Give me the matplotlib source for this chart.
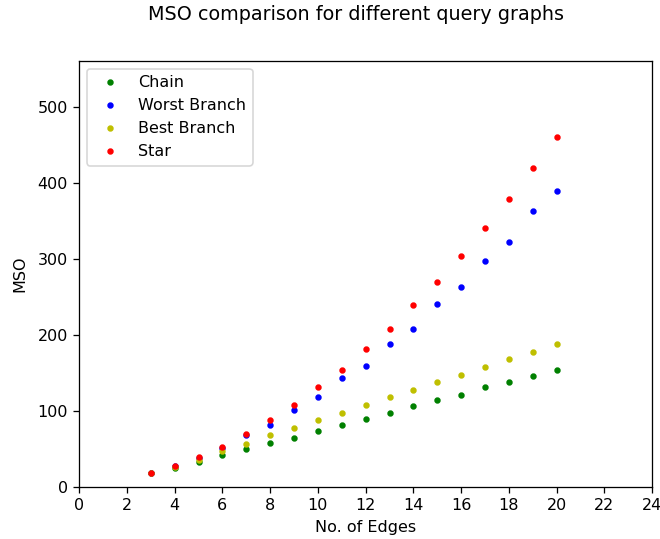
import numpy as np
import matplotlib
matplotlib.use("Agg")
import matplotlib.pyplot as plt

edges = list(range(3, 21))
chain = [18, 25, 33, 42, 50, 58, 65, 74, 82, 90, 97, 106, 114, 121, 131, 138, 146, 154]
worst_branch = [18, 27, 38, 51, 68, 82, 101, 118, 143, 159, 188, 208, 240, 263, 297, 322, 363, 389]
best_branch = [18, 26, 36, 47, 57, 68, 77, 88, 97, 108, 118, 128, 138, 147, 158, 168, 178, 188]
star = [18, 27, 40, 53, 70, 88, 108, 131, 154, 181, 208, 239, 270, 304, 340, 378, 419, 460]

# reference looks like it was saved at a higher dpi, so scale everything up
dpi = 115
fig = plt.figure(figsize=(660 / dpi, 539 / dpi), dpi=dpi)
ax = fig.add_axes([0.12, 0.0965, 0.868, 0.7905])

ax.plot(edges, chain, 'g.', label='Chain')
ax.plot(edges, worst_branch, 'b.', label='Worst Branch')
ax.plot(edges, best_branch, 'y.', label='Best Branch')
ax.plot(edges, star, 'r.', label='Star')

ax.set_xlim(0, 24)
ax.set_ylim(0, 560)
ax.set_xticks(np.arange(0, 25, 2))
ax.set_xlabel('No. of Edges')
ax.set_ylabel('MSO', labelpad=6.5)
ax.legend(loc='upper left')
# original image was cropped, so the title sits right of centre
fig.suptitle('MSO comparison for different query graphs', x=0.54, y=0.99)

fig.savefig('out.png', dpi=dpi)
